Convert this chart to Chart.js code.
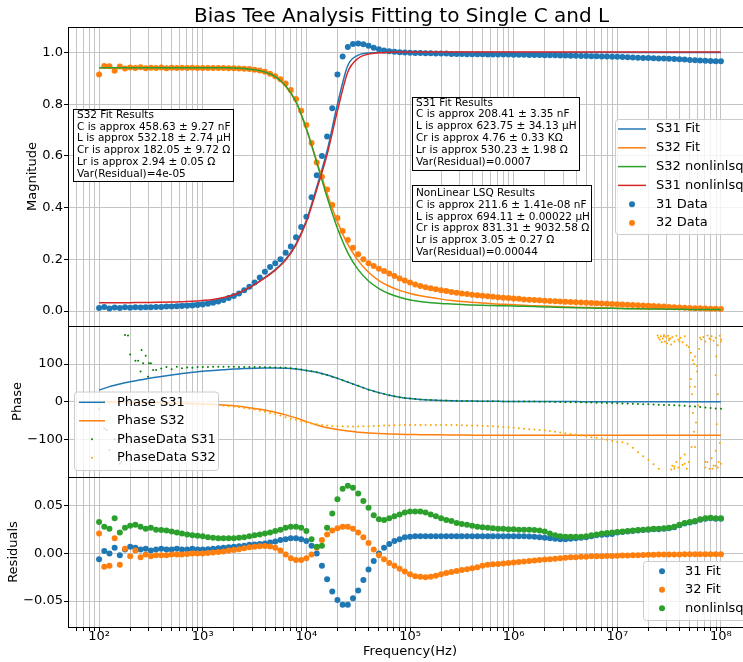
<!DOCTYPE html>
<html>
<head>
<meta charset="utf-8">
<title>Bias Tee Analysis</title>
<script src="https://cdn.jsdelivr.net/npm/chart.js@4.4.1/dist/chart.umd.min.js"></script>
<style>
  html, body { margin: 0; padding: 0; background: #fff; }
  body { width: 743px; height: 662px; overflow: hidden; position: relative; }
  canvas { position: absolute; left: 0; }
  #magChart { top: 0; }
  #phaseChart { top: 326px; }
  #residChart { top: 477px; }
</style>
</head>
<body>
<canvas id="magChart" width="752" height="326"></canvas>
<canvas id="phaseChart" width="752" height="151"></canvas>
<canvas id="residChart" width="752" height="185"></canvas>
<script>
// Measurement frequencies, 20 per decade (Hz)
const freq = [
  1.000e2, 1.122e2, 1.259e2, 1.413e2, 1.585e2, 1.778e2, 1.995e2, 2.239e2, 2.512e2, 2.818e2, 3.162e2, 3.548e2, 3.981e2, 4.467e2, 5.012e2, 5.623e2, 6.310e2, 7.079e2, 7.943e2, 8.913e2,
  1.000e3, 1.122e3, 1.259e3, 1.413e3, 1.585e3, 1.778e3, 1.995e3, 2.239e3, 2.512e3, 2.818e3, 3.162e3, 3.548e3, 3.981e3, 4.467e3, 5.012e3, 5.623e3, 6.310e3, 7.079e3, 7.943e3, 8.913e3,
  1.000e4, 1.122e4, 1.259e4, 1.413e4, 1.585e4, 1.778e4, 1.995e4, 2.239e4, 2.512e4, 2.818e4, 3.162e4, 3.548e4, 3.981e4, 4.467e4, 5.012e4, 5.623e4, 6.310e4, 7.079e4, 7.943e4, 8.913e4,
  1.000e5, 1.122e5, 1.259e5, 1.413e5, 1.585e5, 1.778e5, 1.995e5, 2.239e5, 2.512e5, 2.818e5, 3.162e5, 3.548e5, 3.981e5, 4.467e5, 5.012e5, 5.623e5, 6.310e5, 7.079e5, 7.943e5, 8.913e5,
  1.000e6, 1.122e6, 1.259e6, 1.413e6, 1.585e6, 1.778e6, 1.995e6, 2.239e6, 2.512e6, 2.818e6, 3.162e6, 3.548e6, 3.981e6, 4.467e6, 5.012e6, 5.623e6, 6.310e6, 7.079e6, 7.943e6, 8.913e6,
  1.000e7, 1.122e7, 1.259e7, 1.413e7, 1.585e7, 1.778e7, 1.995e7, 2.239e7, 2.512e7, 2.818e7, 3.162e7, 3.548e7, 3.981e7, 4.467e7, 5.012e7, 5.623e7, 6.310e7, 7.079e7, 7.943e7, 8.913e7,
  1.000e8
];

// Frequencies for the fitted curves, 10 per decade (Hz)
const fitFreq = [
  1.000e2, 1.259e2, 1.585e2, 1.995e2, 2.512e2, 3.162e2, 3.981e2, 5.012e2, 6.310e2, 7.943e2,
  1.000e3, 1.259e3, 1.585e3, 1.995e3, 2.512e3, 3.162e3, 3.981e3, 5.012e3, 6.310e3, 7.943e3,
  1.000e4, 1.259e4, 1.585e4, 1.995e4, 2.512e4, 3.162e4, 3.981e4, 5.012e4, 6.310e4, 7.943e4,
  1.000e5, 1.259e5, 1.585e5, 1.995e5, 2.512e5, 3.162e5, 3.981e5, 5.012e5, 6.310e5, 7.943e5,
  1.000e6, 1.259e6, 1.585e6, 1.995e6, 2.512e6, 3.162e6, 3.981e6, 5.012e6, 6.310e6, 7.943e6,
  1.000e7, 1.259e7, 1.585e7, 1.995e7, 2.512e7, 3.162e7, 3.981e7, 5.012e7, 6.310e7, 7.943e7,
  1.000e8
];

// Magnitude data
const mag31 = [
  0.012, 0.016, 0.010, 0.014, 0.012, 0.015, 0.013, 0.015, 0.014, 0.015, 0.015, 0.016, 0.016, 0.017, 0.017, 0.018, 0.019, 0.020, 0.021, 0.023,
  0.025, 0.028, 0.032, 0.037, 0.043, 0.050, 0.058, 0.068, 0.080, 0.094, 0.110, 0.130, 0.152, 0.170, 0.185, 0.200, 0.225, 0.250, 0.285, 0.325,
  0.365, 0.440, 0.525, 0.600, 0.675, 0.785, 0.915, 0.985, 1.022, 1.033, 1.035, 1.032, 1.026, 1.019, 1.013, 1.008, 1.005, 1.003, 1.001, 1.000,
  0.999, 0.998, 0.998, 0.997, 0.997, 0.996, 0.996, 0.996, 0.995, 0.995, 0.995, 0.994, 0.994, 0.994, 0.994, 0.993, 0.993, 0.993, 0.993, 0.993,
  0.992, 0.992, 0.992, 0.991, 0.991, 0.991, 0.990, 0.990, 0.990, 0.989, 0.989, 0.988, 0.988, 0.987, 0.987, 0.986, 0.986, 0.985, 0.985, 0.984,
  0.984, 0.983, 0.982, 0.981, 0.980, 0.979, 0.979, 0.978, 0.977, 0.977, 0.976, 0.975, 0.974, 0.973, 0.971, 0.970, 0.969, 0.968, 0.967, 0.966,
  0.966
];
const mag32 = [
  0.915, 0.948, 0.947, 0.930, 0.946, 0.938, 0.942, 0.940, 0.943, 0.939, 0.941, 0.940, 0.942, 0.939, 0.941, 0.940, 0.941, 0.940, 0.941, 0.940,
  0.940, 0.940, 0.940, 0.940, 0.940, 0.939, 0.939, 0.938, 0.937, 0.936, 0.934, 0.931, 0.926, 0.918, 0.908, 0.897, 0.880, 0.855, 0.820, 0.775,
  0.720, 0.650, 0.575, 0.520, 0.470, 0.410, 0.360, 0.310, 0.275, 0.245, 0.220, 0.200, 0.185, 0.174, 0.164, 0.155, 0.145, 0.135, 0.126, 0.118,
  0.110, 0.103, 0.097, 0.092, 0.088, 0.084, 0.080, 0.077, 0.074, 0.071, 0.068, 0.066, 0.063, 0.061, 0.059, 0.057, 0.055, 0.053, 0.051, 0.050,
  0.048, 0.047, 0.045, 0.044, 0.043, 0.042, 0.040, 0.039, 0.038, 0.037, 0.036, 0.035, 0.034, 0.033, 0.032, 0.031, 0.030, 0.029, 0.028, 0.027,
  0.026, 0.025, 0.024, 0.023, 0.022, 0.021, 0.020, 0.019, 0.018, 0.017, 0.016, 0.015, 0.014, 0.013, 0.012, 0.011, 0.011, 0.010, 0.009, 0.009,
  0.008
];

// Magnitude fits
const s31Fit = [
  0.015, 0.015, 0.016, 0.017, 0.018, 0.019, 0.021, 0.023, 0.026, 0.029,
  0.033, 0.039, 0.046, 0.058, 0.078, 0.102, 0.130, 0.160, 0.200, 0.260,
  0.350, 0.480, 0.620, 0.800, 0.950, 0.990, 0.998, 1.000, 1.000, 1.000,
  1.000, 1.000, 1.000, 1.000, 1.000, 1.000, 1.000, 1.000, 1.000, 1.000,
  1.000, 1.000, 1.000, 1.000, 1.000, 1.000, 1.000, 1.000, 1.000, 1.000,
  1.000, 1.000, 1.000, 1.000, 1.000, 1.000, 1.000, 1.000, 1.000, 1.000,
  1.000
];
const s32Fit = [
  0.940, 0.940, 0.940, 0.940, 0.940, 0.940, 0.940, 0.940, 0.940, 0.940,
  0.940, 0.940, 0.940, 0.939, 0.937, 0.933, 0.924, 0.905, 0.870, 0.808,
  0.705, 0.580, 0.455, 0.345, 0.258, 0.195, 0.150, 0.118, 0.096, 0.080,
  0.068, 0.059, 0.052, 0.046, 0.041, 0.037, 0.034, 0.031, 0.028, 0.026,
  0.024, 0.022, 0.020, 0.019, 0.017, 0.016, 0.015, 0.014, 0.013, 0.012,
  0.011, 0.010, 0.009, 0.009, 0.008, 0.007, 0.007, 0.006, 0.006, 0.005,
  0.005
];
const s32NonLin = [
  0.941, 0.941, 0.941, 0.941, 0.941, 0.941, 0.941, 0.941, 0.941, 0.941,
  0.941, 0.941, 0.941, 0.940, 0.938, 0.934, 0.925, 0.907, 0.872, 0.810,
  0.705, 0.575, 0.440, 0.320, 0.225, 0.160, 0.116, 0.087, 0.067, 0.053,
  0.043, 0.037, 0.032, 0.029, 0.027, 0.025, 0.023, 0.022, 0.021, 0.020,
  0.019, 0.018, 0.017, 0.016, 0.015, 0.014, 0.013, 0.012, 0.011, 0.011,
  0.010, 0.009, 0.009, 0.008, 0.008, 0.007, 0.007, 0.006, 0.006, 0.006,
  0.005
];
const s31NonLin = [
  0.032, 0.032, 0.032, 0.032, 0.033, 0.033, 0.034, 0.035, 0.036, 0.038,
  0.041, 0.045, 0.052, 0.063, 0.080, 0.102, 0.128, 0.158, 0.197, 0.256,
  0.345, 0.470, 0.605, 0.775, 0.925, 0.978, 0.994, 0.999, 1.001, 1.002,
  1.002, 1.002, 1.002, 1.002, 1.002, 1.002, 1.002, 1.002, 1.002, 1.002,
  1.002, 1.002, 1.002, 1.002, 1.002, 1.002, 1.002, 1.002, 1.002, 1.002,
  1.002, 1.002, 1.002, 1.002, 1.002, 1.002, 1.002, 1.002, 1.002, 1.002,
  1.002
];

// Phase fits (degrees)
const phaseS31Fit = [
  31, 40, 47, 53, 58, 63, 67, 71, 75, 78,
  81, 83, 85, 87, 88, 89, 89.5, 89.5, 89, 87,
  83, 78, 71, 62, 52, 42, 32, 24, 17, 12,
  8.5, 6, 4.5, 3.3, 2.5, 2, 1.5, 1.2, 1, 0.8,
  0.6, 0.5, 0.4, 0.3, 0.3, 0.2, 0.2, 0.1, 0.1, 0.1,
  0, 0, 0, 0, 0, 0, 0, 0, 0, 0,
  0
];
const phaseS32Fit = [
  0, -0.5, -1, -1.5, -2, -2.5, -3, -3.5, -4, -5,
  -6, -7, -9, -11, -14, -18, -22, -28, -35, -43,
  -53, -62, -69, -74, -78, -81, -83, -84.5, -85.5, -86.5,
  -87, -87.5, -88, -88, -88.5, -88.5, -89, -89, -89, -89,
  -89, -89, -89, -89, -89, -89, -89, -89, -89, -89,
  -89, -89, -89, -89, -89, -89, -89, -89, -89, -89,
  -89
];

// Phase data (degrees)
const phase31 = [
  -20, -71, -128, -100, -165, 177, 125, 109, 80, 122, 102, 84, 88, 92, 86, 93, 89, 91, 90, 92,
  92, 92, 92.5, 92.5, 92.5, 92.5, 92.5, 92, 92, 92, 92, 92, 91.5, 91.5, 91, 91, 90, 89, 87.5, 85.5,
  83, 81, 78, 74.5, 71, 66.5, 62, 57, 52, 47, 42, 37, 32, 28, 24, 20.5, 17, 14.5, 12, 10,
  8.5, 7, 6, 5.2, 4.5, 3.9, 3.3, 2.9, 2.5, 2.2, 2, 1.7, 1.5, 1.3, 1.2, 1.1, 1, 0.9, 0.8, 0.7,
  0.6, 0.5, 0.4, 0.3, 0.2, 0, -0.2, -0.4, -0.7, -1, -1.2, -1.4, -1.6, -1.8, -2, -2.3, -2.6, -3, -3.4, -3.8,
  -4.2, -4.6, -5, -5.5, -6, -6.5, -7, -7.5, -8, -8.5, -9, -9.5, -10.2, -11, -12, -13, -14, -15.5, -17, -18,
  -19
];
const phase31ExtraFreq = [1.90e2, 2.38e2, 2.57e2, 2.66e2, 2.97e2, 3.03e2, 3.32e2, 1.18e2, 1.64e2];
const phase31ExtraVal = [176, 109, 137, 102, 66, 102, 84, -75, -160];

const phase32 = [
  -3, 2, -5, 1, -3, -2, -3, -3, -4, -4, -4, -4.5, -5, -5, -5.5, -6, -6, -6.5, -7, -7.5,
  -8, -8.5, -9, -10, -11, -12, -13.5, -15, -17, -19, -21, -24, -27, -30, -33, -37, -41, -45, -48, -52,
  -55, -58, -60, -62, -63.5, -64.5, -65, -65.5, -66, -66, -66, -65.5, -65, -64.5, -64, -63.5, -63, -62.5, -62, -62,
  -62, -62, -62, -62, -62, -62, -62, -62, -62, -62, -62.5, -63, -63, -63.5, -64, -64.5, -65, -66, -67, -68,
  -69, -70.5, -72, -73, -74, -75, -76, -78, -80, -82, -84, -86, -87.5, -90, -92, -94.5, -96, -98, -101, -104,
  -107, -108, -112, -122, -134, -145, -155, -166, -178, 174, 168, -172, 160, -165, 40, -120, 170, -160, 165, -170,
  160
];
const phase32ExtraFreq = [
  2.45e7, 2.50e7, 2.57e7, 2.63e7, 2.69e7, 2.75e7, 2.82e7, 2.88e7, 2.95e7, 3.02e7, 3.09e7, 3.16e7, 3.24e7, 3.31e7, 3.39e7,
  3.55e7, 3.72e7, 3.89e7, 4.07e7, 4.27e7, 4.47e7, 4.68e7, 4.90e7, 5.13e7, 5.37e7, 5.62e7, 5.89e7, 6.17e7, 6.46e7, 6.76e7,
  7.08e7, 7.41e7, 7.76e7, 8.13e7, 8.51e7, 8.91e7, 9.33e7, 9.77e7, 1.00e8,
  5.13e7, 5.25e7, 5.37e7, 5.50e7, 5.62e7, 5.75e7, 5.89e7, 6.03e7, 5.20e7, 5.50e7,
  8.91e7, 9.12e7, 9.33e7, 9.00e7,
  3.39e7, 3.55e7, 3.72e7, 3.89e7, 4.07e7, 4.27e7, 4.47e7, 4.68e7, 4.90e7, 3.31e7,
  7.08e7, 7.41e7, 7.76e7, 8.13e7, 8.51e7, 8.91e7, 9.33e7, 9.77e7, 1.00e8, 8.30e7, 9.50e7
];
const phase32ExtraVal = [
  176, 170, 165, 174, 158, 168, 177, 160, 171, 155, 175, 163, 168, 152, 172,
  160, 175, 165, 170, 158, 174, 150, 145, 130, 110, 120, 95, 140, 165, 172,
  160, 176, 168, 174, 162, 170, 150, 175, 165,
  60, 20, -30, -80, 40, -55, 80, -10, -120, 100,
  70, -60, 20, 120,
  -170, -178, -160, -175, -150, -168, -140, -178, -160, -180,
  -175, -160, -178, -150, -170, -130, -175, -110, -165, -178, -160
];

// Residuals
const resid31 = [
  -0.006, 0.0025, 0.000, 0.006, -0.002, 0.004, 0.007, 0.006, 0.004, 0.005, 0.003, 0.004, 0.005, 0.004, 0.004, 0.005, 0.004, 0.004, 0.005, 0.004,
  0.004, 0.0045, 0.005, 0.0055, 0.006, 0.0065, 0.007, 0.0075, 0.008, 0.009, 0.0095, 0.010, 0.0105, 0.0115, 0.0125, 0.014, 0.015, 0.016, 0.016, 0.015,
  0.013, 0.008, 0.000, -0.013, -0.027, -0.040, -0.049, -0.054, -0.054, -0.047, -0.039, -0.028, -0.017, -0.008, 0.000, 0.006, 0.010, 0.013, 0.015, 0.017,
  0.0175, 0.018, 0.018, 0.018, 0.018, 0.018, 0.018, 0.018, 0.018, 0.018, 0.018, 0.018, 0.018, 0.018, 0.018, 0.018, 0.018, 0.018, 0.018, 0.018,
  0.018, 0.018, 0.018, 0.0178, 0.0175, 0.017, 0.0165, 0.016, 0.0155, 0.015, 0.015, 0.0155, 0.016, 0.0165, 0.017, 0.018, 0.019, 0.0195, 0.020, 0.0205,
  0.022, 0.0225, 0.023, 0.0235, 0.024, 0.0245, 0.025, 0.0255, 0.0255, 0.026, 0.0265, 0.0275, 0.0295, 0.0315, 0.0325, 0.0335, 0.0355, 0.0365, 0.037, 0.0365,
  0.0365
];
const resid32 = [
  0.021, -0.014, -0.013, 0.016, -0.012, 0.005, -0.003, 0.003, -0.004, -0.001, -0.003, -0.002, -0.002, -0.002, -0.001, -0.001, -0.001, -0.0005, 0.000, 0.000,
  0.000, 0.0005, 0.001, 0.0015, 0.002, 0.003, 0.0035, 0.0045, 0.0055, 0.0065, 0.007, 0.0075, 0.0077, 0.0072, 0.006, 0.003, -0.001, -0.005, -0.007, -0.007,
  -0.005, -0.001, 0.006, 0.014, 0.020, 0.024, 0.0265, 0.028, 0.028, 0.026, 0.022, 0.017, 0.011, 0.004, -0.002, -0.006, -0.010, -0.013, -0.016, -0.019,
  -0.022, -0.024, -0.0245, -0.025, -0.0245, -0.0235, -0.022, -0.0205, -0.0195, -0.0185, -0.0175, -0.0165, -0.0155, -0.0145, -0.013, -0.012, -0.0115, -0.011, -0.0105, -0.010,
  -0.0095, -0.009, -0.0085, -0.008, -0.0075, -0.007, -0.0065, -0.006, -0.0055, -0.005, -0.0045, -0.004, -0.004, -0.0035, -0.0035, -0.003, -0.003, -0.003, -0.0028, -0.0026,
  -0.0025, -0.0023, -0.0021, -0.002, -0.0018, -0.0016, -0.0015, -0.0013, -0.0012, -0.0011, -0.001, -0.001, -0.001, -0.0009, -0.0009, -0.0009, -0.0008, -0.0008, -0.0008, -0.0008,
  -0.0008
];
const residNonLin = [
  0.033, 0.028, 0.026, 0.037, 0.022, 0.027, 0.029, 0.030, 0.028, 0.026, 0.027, 0.025, 0.0245, 0.024, 0.023, 0.022, 0.021, 0.020, 0.019, 0.0185,
  0.018, 0.017, 0.0165, 0.016, 0.016, 0.016, 0.016, 0.0165, 0.017, 0.018, 0.019, 0.020, 0.021, 0.022, 0.0235, 0.025, 0.027, 0.028, 0.028, 0.027,
  0.0235, 0.015, 0.007, 0.008, 0.027, 0.042, 0.057, 0.068, 0.071, 0.069, 0.063, 0.055, 0.048, 0.040, 0.036, 0.035, 0.037, 0.039, 0.041, 0.043,
  0.044, 0.044, 0.044, 0.043, 0.041, 0.039, 0.037, 0.035, 0.034, 0.032, 0.031, 0.030, 0.029, 0.028, 0.0275, 0.027, 0.0265, 0.026, 0.026, 0.0255,
  0.0255, 0.025, 0.025, 0.025, 0.0245, 0.024, 0.023, 0.021, 0.019, 0.018, 0.0175, 0.0175, 0.0175, 0.0175, 0.018, 0.019, 0.020, 0.021, 0.0215, 0.022,
  0.0225, 0.023, 0.0235, 0.024, 0.0245, 0.025, 0.0255, 0.026, 0.026, 0.0265, 0.027, 0.028, 0.030, 0.032, 0.033, 0.034, 0.036, 0.037, 0.0375, 0.037,
  0.037
];

// Tick values and labels
const xMajorValues = [1e2, 1e3, 1e4, 1e5, 1e6, 1e7, 1e8];
const xMajorLabels = ['10\u00B2', '10\u00B3', '10\u2074', '10\u2075', '10\u2076', '10\u2077', '10\u2078'];
const magTicks = [0, 0.2, 0.4, 0.6, 0.8, 1.0];
const magLabels = ['0.0', '0.2', '0.4', '0.6', '0.8', '1.0'];
const phaseTicks = [-100, 0, 100];
const phaseLabels = ['\u2212100', '0', '100'];
const residTicks = [-0.05, 0, 0.05];
const residLabels = ['\u22120.05', '0.00', '0.05'];

// Fit result boxes
const s32Notes = ['S32 Fit Results', 'C is approx 458.63 \u00B1 9.27 nF', 'L is approx 532.18 \u00B1 2.74 \u03BCH',
  'Cr is approx 182.05 \u00B1 9.72 \u03A9', 'Lr is approx 2.94 \u00B1 0.05 \u03A9', 'Var(Residual)=4e-05'];
const s31Notes = ['S31 Fit Results', 'C is approx 208.41 \u00B1 3.35 nF', 'L is approx 623.75 \u00B1 34.13 \u03BCH',
  'Cr is approx 4.76 \u00B1 0.33 K\u03A9', 'Lr is approx 530.23 \u00B1 1.98 \u03A9', 'Var(Residual)=0.0007'];
const nonLinNotes = ['NonLinear LSQ Results', 'C is approx 211.6 \u00B1 1.41e-08 nF', 'L is approx 694.11 \u00B1 0.00022 \u03BCH',
  'Cr is approx 831.31 \u00B1 9032.58 \u03A9', 'Lr is approx 3.05 \u00B1 0.27 \u03A9', 'Var(Residual)=0.00044'];

const TITLE = 'Bias Tee Analysis Fitting to Single C and L';

const FONT = '"DejaVu Sans", sans-serif';
const BLUE = '#1f77b4', ORANGE = '#ff7f0e', GREEN = '#2ca02c', RED = '#d62728';
const DARK_GREEN = '#008000', LIGHT_ORANGE = '#ffa500';
const GRID = '#c4c4c4';
const X_MIN = 50.12, X_MAX = 1.995e8;
const AXIS_W = 68;

Chart.defaults.font.family = FONT;
Chart.defaults.font.size = 13;
Chart.defaults.color = '#000';

// Grid lines at 1..9 x 10^k inside the x range
const xGridValues = [];
for (let p = 1; p <= 8; p++) {
  for (let m = 1; m <= 9; m++) {
    const v = m * Math.pow(10, p);
    if (v >= X_MIN && v <= X_MAX) xGridValues.push(v);
  }
}

function pts(xs, ys) {
  return xs.map((x, i) => ({ x: x, y: ys[i] }));
}

function lineSet(label, xs, ys, color, order) {
  return {
    label: label, data: pts(xs, ys), showLine: true,
    borderColor: color, backgroundColor: color, borderWidth: 1.5,
    pointRadius: 0, cubicInterpolationMode: 'monotone', order: order
  };
}

function dotSet(label, data, color, radius, order) {
  return {
    label: label, data: data, showLine: false,
    borderColor: color, backgroundColor: color,
    pointRadius: radius, pointBorderWidth: 0, order: order
  };
}

function xAxis(showLabels) {
  return {
    type: 'logarithmic', min: X_MIN, max: X_MAX,
    afterBuildTicks: s => { s.ticks = xGridValues.map(v => ({ value: v })); },
    afterFit: s => {
      s.height = showLabels ? 35 : 0;
      s.paddingLeft = 0;
      s.paddingRight = 0;
    },
    grid: { color: GRID, lineWidth: 1, drawTicks: showLabels, tickLength: 4, tickColor: '#000', tickWidth: 1 },
    border: { display: false },
    ticks: {
      display: showLabels, autoSkip: false, maxRotation: 0, padding: -1,
      font: { size: 13, lineHeight: 1 },
      callback: v => {
        const i = xMajorValues.indexOf(v);
        return i >= 0 ? xMajorLabels[i] : '';
      }
    },
    title: { display: showLabels, text: 'Frequency(Hz)', padding: { top: 0, bottom: 2.2 }, font: { size: 13 } }
  };
}

function yAxis(min, max, values, labels, title, titlePad) {
  return {
    min: min, max: max,
    afterBuildTicks: s => { s.ticks = values.map(v => ({ value: v })); },
    afterFit: s => {
      s.width = AXIS_W;
      s.paddingTop = 0;
      s.paddingBottom = 0;
    },
    grid: { color: GRID, lineWidth: 1, tickLength: 4, tickColor: '#000', tickWidth: 1 },
    border: { display: false },
    ticks: { padding: 1, callback: (v, i) => labels[i] },
    title: { display: true, text: title, padding: { top: titlePad, bottom: 0 }, font: { size: 13 } }
  };
}

function baseOptions(padding, x, y) {
  return {
    responsive: false, animation: false, events: [],
    layout: { padding: padding, autoPadding: false },
    plugins: { legend: { display: false }, tooltip: { enabled: false } },
    scales: { x: x, y: y }
  };
}

// Black frame around each plot area
const framePlugin = {
  id: 'frame',
  afterDatasetsDraw(chart) {
    const { ctx, chartArea: a } = chart;
    ctx.save();
    ctx.strokeStyle = '#000';
    ctx.lineWidth = 1;
    ctx.strokeRect(Math.round(a.left) + 0.5, Math.round(a.top) + 0.5,
      Math.round(a.right - a.left), Math.round(a.bottom - a.top));
    ctx.restore();
  }
};

// Legend box placed inside the plot, like matplotlib's
function legendPlugin(id, box, labels) {
  return {
    id: id,
    afterDraw(chart) {
      const ctx = chart.ctx;
      ctx.save();
      ctx.beginPath();
      if (ctx.roundRect) ctx.roundRect(box.x + 0.5, box.y + 0.5, box.w, box.h, 3);
      else ctx.rect(box.x + 0.5, box.y + 0.5, box.w, box.h);
      ctx.fillStyle = 'rgba(255,255,255,0.8)';
      ctx.fill();
      ctx.strokeStyle = '#cccccc';
      ctx.lineWidth = 1;
      ctx.stroke();
      ctx.font = '13px ' + FONT;
      ctx.textBaseline = 'middle';
      ctx.textAlign = 'left';
      labels.forEach((label, i) => {
        const ds = chart.data.datasets.find(d => d.label === label);
        const y = box.rowY + i * box.gap;
        if (ds.showLine) {
          ctx.strokeStyle = ds.borderColor;
          ctx.lineWidth = 1.5;
          ctx.beginPath();
          ctx.moveTo(box.hx0, y);
          ctx.lineTo(box.hx1, y);
          ctx.stroke();
        } else {
          ctx.fillStyle = ds.backgroundColor;
          ctx.beginPath();
          ctx.arc(box.mx, y, ds.pointRadius, 0, Math.PI * 2);
          ctx.fill();
        }
        ctx.fillStyle = '#000';
        ctx.fillText(label, box.tx, y);
      });
      ctx.restore();
    }
  };
}

// Title and fit-result text boxes on the magnitude panel
const magTextPlugin = {
  id: 'magText',
  afterDraw(chart) {
    const ctx = chart.ctx;
    ctx.save();
    ctx.fillStyle = '#000';
    ctx.font = '20px ' + FONT;
    ctx.textAlign = 'center';
    ctx.textBaseline = 'middle';
    ctx.fillText(TITLE, 401.5, 16.5);

    const notes = [
      { x: 73, y: 109, w: 160, h: 72, ty: 115, lines: s32Notes },
      { x: 412, y: 97, w: 167, h: 73, ty: 102.8, lines: s31Notes },
      { x: 412, y: 185, w: 179, h: 76, ty: 193.3, lines: nonLinNotes }
    ];
    ctx.font = '10.5px ' + FONT;
    ctx.textAlign = 'left';
    notes.forEach(n => {
      ctx.fillStyle = '#fff';
      ctx.fillRect(n.x, n.y, n.w, n.h);
      ctx.strokeStyle = '#000';
      ctx.lineWidth = 1;
      ctx.strokeRect(n.x + 0.5, n.y + 0.5, n.w, n.h);
      ctx.fillStyle = '#000';
      n.lines.forEach((t, i) => ctx.fillText(t, n.x + 4, n.ty + i * 11.8));
    });
    ctx.restore();
  }
};

// Magnitude panel
new Chart(document.getElementById('magChart'), {
  type: 'scatter',
  data: {
    datasets: [
      lineSet('S31 Fit', fitFreq, s31Fit, BLUE, 4),
      lineSet('S32 Fit', fitFreq, s32Fit, ORANGE, 3),
      lineSet('S32 nonlinlsq', fitFreq, s32NonLin, GREEN, 2),
      lineSet('S31 nonlinlsq', fitFreq, s31NonLin, RED, 1),
      dotSet('31 Data', pts(freq, mag31), BLUE, 3, 6),
      dotSet('32 Data', pts(freq, mag32), ORANGE, 3, 5)
    ]
  },
  options: baseOptions({ top: 27, left: 0, right: 0, bottom: 0 }, xAxis(false),
    yAxis(-0.058, 1.099, magTicks, magLabels, 'Magnitude', 25)),
  plugins: [framePlugin, magTextPlugin,
    legendPlugin('magLegend', { x: 615, y: 119, w: 150, h: 115, rowY: 129, gap: 18.8, hx0: 618, hx1: 646, mx: 632, tx: 656 },
      ['S31 Fit', 'S32 Fit', 'S32 nonlinlsq', 'S31 nonlinlsq', '31 Data', '32 Data'])]
});

// Phase panel
new Chart(document.getElementById('phaseChart'), {
  type: 'scatter',
  data: {
    datasets: [
      dotSet('PhaseData S32', pts(freq, phase32).concat(pts(phase32ExtraFreq, phase32ExtraVal)), LIGHT_ORANGE, 1, 1),
      dotSet('PhaseData S31', pts(freq, phase31).concat(pts(phase31ExtraFreq, phase31ExtraVal)), DARK_GREEN, 1, 2),
      lineSet('Phase S32', fitFreq, phaseS32Fit, ORANGE, 3),
      lineSet('Phase S31', fitFreq, phaseS31Fit, BLUE, 4)
    ]
  },
  options: baseOptions(0, xAxis(false), yAxis(-200, 201, phaseTicks, phaseLabels, 'Phase', 10)),
  plugins: [framePlugin,
    legendPlugin('phaseLegend', { x: 74, y: 65.5, w: 144, h: 78.5, rowY: 76.3, gap: 18.5, hx0: 79, hx1: 105, mx: 92, tx: 117 },
      ['Phase S31', 'Phase S32', 'PhaseData S31', 'PhaseData S32'])]
});

// Residuals panel
new Chart(document.getElementById('residChart'), {
  type: 'scatter',
  data: {
    datasets: [
      dotSet('nonlinlsq', pts(freq, residNonLin), GREEN, 3, 1),
      dotSet('32 Fit', pts(freq, resid32), ORANGE, 3, 2),
      dotSet('31 Fit', pts(freq, resid31), BLUE, 3, 3)
    ]
  },
  options: baseOptions(0, xAxis(true), yAxis(-0.0773, 0.0803, residTicks, residLabels, 'Residuals', 6)),
  plugins: [framePlugin,
    legendPlugin('residLegend', { x: 643, y: 84, w: 130, h: 59, rowY: 94.3, gap: 18.5, hx0: 648, hx1: 676, mx: 662, tx: 685 },
      ['31 Fit', '32 Fit', 'nonlinlsq'])]
});
</script>
</body>
</html>
